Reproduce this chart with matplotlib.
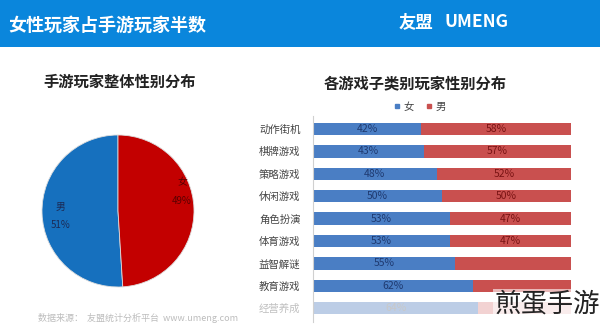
import numpy as np
import matplotlib.pyplot as plt
from matplotlib.patches import Rectangle
from matplotlib.lines import Line2D

plt.rcParams['font.family'] = ['Noto Sans CJK SC', 'DejaVu Sans']

# data
pie_labels = ['男', '女']
pie_values = [51, 49]

categories = ['动作街机', '棋牌游戏', '策略游戏', '休闲游戏', '角色扮演',
              '体育游戏', '益智解谜', '教育游戏', '经营养成']
female = [42, 43, 48, 50, 53, 53, 55, 62, 64]
male = [58, 57, 52, 50, 47, 47, 45, 38, 36]

W, H = 600, 327
fig = plt.figure(figsize=(W / 100, H / 100), dpi=100)
fig.patch.set_facecolor('white')


def px_axes(left, top, width, height):
    # pixel box (from top-left) -> figure fraction axes
    return fig.add_axes([left / W, (H - top - height) / H, width / W, height / H])


# header band
fig.patches.append(Rectangle((0, (H - 47) / H), 1, 47 / H, transform=fig.transFigure,
                             facecolor='#0a86dc', edgecolor='none', zorder=0))
fig.text(8 / W, 1 - 25 / H, '女性玩家占手游玩家半数', color='white', fontsize=13,
         fontweight='bold', va='center', ha='left')
fig.text(399 / W, 1 - 22 / H, '友盟', color='white', fontsize=12.5,
         fontweight='bold', va='center', ha='left')
fig.text(444 / W, 1 - 22 / H, 'UMENG', color='white', fontsize=12.5,
         fontweight='bold', va='center', ha='left')

# pie chart
axp = px_axes(118 - 80, 211 - 80, 160, 160)
wedges, _ = axp.pie(pie_values, colors=['#1670be', '#c30000'], startangle=90,
                    counterclock=True, radius=0.95,
                    wedgeprops=dict(edgecolor='#dddddd', linewidth=0.6))
axp.set_xlim(-1, 1)
axp.set_ylim(-1, 1)
axp.set_aspect('equal')
axp.axis('off')
txt_colors = ['#1b2a55', '#5a0000']
dists = [0.72, 0.8]
offsets = [-0.04, 0.22]
for w, lab, val, c, d, dy in zip(wedges, pie_labels, pie_values, txt_colors, dists, offsets):
    ang = np.deg2rad((w.theta1 + w.theta2) / 2)
    x = d * np.cos(ang)
    y = d * np.sin(ang) + dy
    axp.text(x, y, f'{lab}\n\n{val}%', ha='center', va='center', fontsize=7,
             color=c, linespacing=0.9)

fig.text(120 / W, 1 - 82 / H, '手游玩家整体性别分布', fontsize=11, fontweight='bold',
         ha='center', va='center', color='#222222')

# stacked bar chart
step = 22.4
axb = px_axes(313, 129 - 0.6 * step, 258, 9.2 * step)
ypos = list(range(len(categories)))
blue_c = ['#4a7ec4'] * 8 + ['#bccde6']
red_c = ['#c9504f'] * 8 + ['#f2d2d2']
axb.barh(ypos, female, height=0.55, color=blue_c)
axb.barh(ypos, male, left=female, height=0.55, color=red_c)
axb.set_xlim(0, 100)
axb.set_ylim(len(categories) - 1 + 0.6, -0.6)
axb.set_yticks(ypos)
axb.set_yticklabels(categories, fontsize=7.5)
for i, t in enumerate(axb.get_yticklabels()):
    t.set_color('#c0c0c0' if i == len(categories) - 1 else '#444444')
axb.tick_params(axis='y', length=0, pad=9)
axb.set_xticks([])
for s in ['top', 'right', 'bottom']:
    axb.spines[s].set_visible(False)
axb.spines['left'].set_color('#d0d0d0')
axb.spines['left'].set_linewidth(0.8)
for i, (f, m) in enumerate(zip(female, male)):
    fc = '#c8c8c8' if i == len(categories) - 1 else '#1f3a70'
    axb.text(f / 2, i, f'{f}%', ha='center', va='center', fontsize=7.5, color=fc)
    if i < 6:
        axb.text(f + m / 2, i, f'{m}%', ha='center', va='center', fontsize=7.5,
                 color='#7a1414')

fig.text(415 / W, 1 - 83 / H, '各游戏子类别玩家性别分布', fontsize=11, fontweight='bold',
         ha='center', va='center', color='#222222')
handles = [Line2D([], [], marker='s', linestyle='none', markersize=3.5, color='#4a7ec4'),
           Line2D([], [], marker='s', linestyle='none', markersize=3.5, color='#c9504f')]
fig.legend(handles, ['女', '男'], loc='center', bbox_to_anchor=(420 / W, 1 - 107 / H),
           ncol=2, frameon=False, fontsize=7.5, handlelength=0.6, handletextpad=0.3,
           columnspacing=1.2, labelcolor='#444444')

# footer and watermark
fig.text(38 / W, 1 - 318 / H, '数据来源：  友盟统计分析平台  www.umeng.com', fontsize=6.5,
         color='#bdbdbd', ha='left', va='center')
fig.text(600 / W, 1 - 304 / H, '煎蛋手游', fontsize=19, color='#222222', ha='right',
         va='center', bbox=dict(facecolor='white', edgecolor='none', alpha=0.6, pad=1))

fig.savefig('out.png', dpi=100)
